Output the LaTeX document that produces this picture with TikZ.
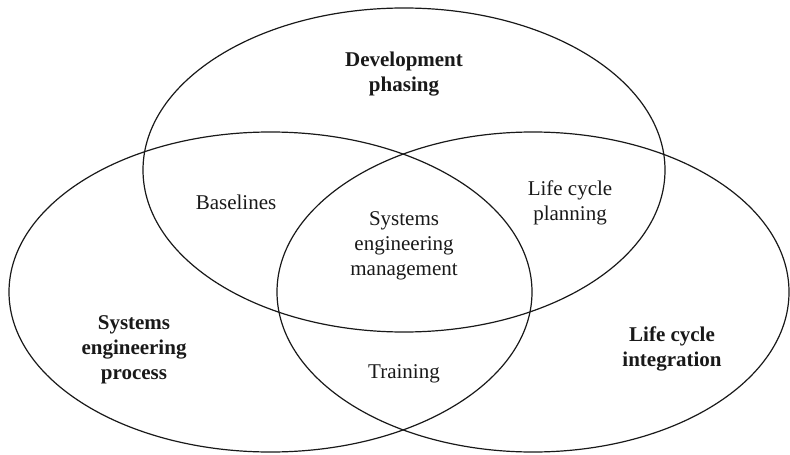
\documentclass[tikz,border=0pt]{standalone}
\usepackage{fontspec}
\setmainfont{Liberation Serif}
\definecolor{ink}{rgb}{0.1,0.1,0.1}
\tikzset{
  lbl/.style={align=center,text=ink,inner sep=0pt,font=\fontsize{10.5}{12.5}\selectfont},
  head/.style={lbl,font=\fontsize{10.5}{12.5}\selectfont\bfseries}
}
\begin{document}
\begin{tikzpicture}[line cap=round,line join=round,x=0.5pt,y=-0.5pt]
\useasboundingbox (0,0) rectangle (790,454);
% the three sets
\draw [color=ink,line width=0.6pt] (404,170) ellipse [x radius=130.5pt, y radius=81pt];
\draw [color=ink,line width=0.6pt] (270.5,292) ellipse [x radius=130.75pt, y radius=80pt];
\draw [color=ink,line width=0.6pt] (533,292) ellipse [x radius=128pt, y radius=80pt];
% set names
\node[head] (phasing) at (404,74) {Development\\phasing};
\node[head] (process) at (134,350) {Systems\\engineering\\process};
\node[head] (integration) at (672,349) {Life cycle\\integration};
% overlaps
\node[lbl] (baselines) at (236,202) {Baselines};
\node[lbl] (planning) at (570,203) {Life cycle\\planning};
\node[lbl] (management) at (404,246) {Systems\\engineering\\management};
\node[lbl] (training) at (404,374) {Training};
\end{tikzpicture}
\end{document}
